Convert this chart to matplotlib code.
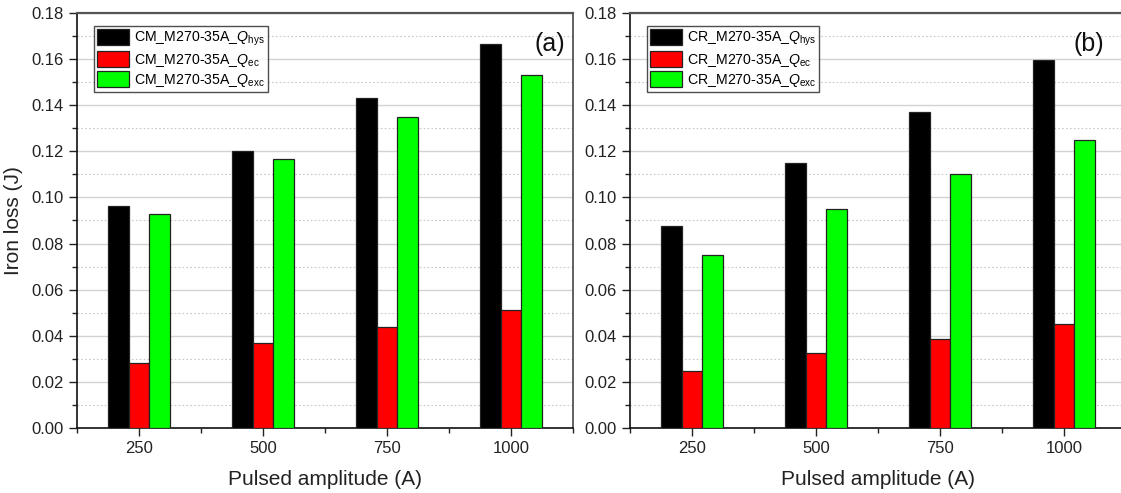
import matplotlib
matplotlib.use("Agg")
import matplotlib.pyplot as plt
from matplotlib.ticker import MultipleLocator, FixedLocator
import numpy as np

plt.rcParams['font.family'] = ['Liberation Sans', 'DejaVu Sans']
plt.rcParams['mathtext.fontset'] = 'custom'
plt.rcParams['mathtext.rm'] = 'Liberation Sans'
plt.rcParams['mathtext.it'] = 'Liberation Sans:italic'

amplitudes = [250, 500, 750, 1000]

cm_hys = [0.0964, 0.1201, 0.1430, 0.1664]
cm_ec = [0.0281, 0.0367, 0.0439, 0.0510]
cm_exc = [0.0927, 0.1165, 0.1350, 0.1530]

cr_hys = [0.0877, 0.1150, 0.1372, 0.1594]
cr_ec = [0.0246, 0.0324, 0.0387, 0.0450]
cr_exc = [0.0752, 0.0948, 0.1100, 0.1247]

series_colors = ['#000000', '#ff0000', '#00ff00']
subscripts = ['hys', 'ec', 'exc']

W, H = 1121, 493
fig = plt.figure(figsize=(W / 100, H / 100), dpi=100)

ax_bottom = (H - 428) / H
ax_height = (428 - 13) / H
ax_a = fig.add_axes([77 / W, ax_bottom, 496 / W, ax_height])
ax_b = fig.add_axes([630 / W, ax_bottom, 496 / W, ax_height])


def draw_panel(ax, prefix, groups, tag):
    x = np.array(amplitudes, dtype=float)
    bw = 250 / 6
    offsets = [-bw, 0, bw]
    for vals, col, off, sub in zip(groups, series_colors, offsets, subscripts):
        ax.bar(x + off, vals, width=bw, color=col, edgecolor='#222222',
               linewidth=0.9, zorder=3,
               label=f'{prefix}_M270-35A_$Q_{{\\mathrm{{{sub}}}}}$')
    ax.set_xlim(125, 1125)
    ax.set_ylim(0, 0.18)
    ax.xaxis.set_major_locator(FixedLocator(amplitudes))
    ax.xaxis.set_minor_locator(FixedLocator([125, 375, 625, 875, 1125]))
    ax.yaxis.set_major_locator(MultipleLocator(0.02))
    ax.yaxis.set_minor_locator(MultipleLocator(0.01))
    ax.yaxis.set_major_formatter(plt.FuncFormatter(lambda v, p: f'{v:.2f}'))
    ax.grid(True, which='major', axis='y', color='#d2d2d2', linewidth=1.0, zorder=0)
    ax.grid(True, which='minor', axis='y', color='#c8c8c8', linewidth=0.8,
            linestyle=(0, (1.5, 2)), zorder=0)
    ax.tick_params(which='major', direction='out', length=6, width=1.0,
                   labelsize=12, colors='#222222', labelcolor='#222222')
    ax.tick_params(which='minor', direction='out', length=3.5, width=1.0,
                   colors='#222222')
    for s in ('left', 'bottom'):
        ax.spines[s].set_color('#111111')
        ax.spines[s].set_linewidth(1.2)
    ax.spines['top'].set_color('#555555')
    ax.spines['top'].set_linewidth(1.6)
    ax.spines['right'].set_color('#555555')
    ax.spines['right'].set_linewidth(1.3)
    ax.set_xlabel('Pulsed amplitude (A)', fontsize=15, color='#222222', labelpad=10)
    leg = ax.legend(loc='upper left', bbox_to_anchor=(0.034, 0.969), fontsize=10.2,
                    frameon=True, fancybox=False, handlelength=2.25,
                    handleheight=1.3, handletextpad=0.3, borderpad=0.25,
                    labelspacing=0.2, borderaxespad=0)
    leg.get_frame().set_edgecolor('#222222')
    leg.get_frame().set_linewidth(1.0)
    leg.set_zorder(5)
    ax.text(0.985 if tag == '(a)' else 0.955, 0.955, tag, transform=ax.transAxes,
            ha='right', va='top', fontsize=18, color='#111111', zorder=6)


draw_panel(ax_a, 'CM', [cm_hys, cm_ec, cm_exc], '(a)')
draw_panel(ax_b, 'CR', [cr_hys, cr_ec, cr_exc], '(b)')
ax_a.set_ylabel('Iron loss (J)', fontsize=15, color='#222222', labelpad=6)

fig.savefig('out.png', dpi=100)
